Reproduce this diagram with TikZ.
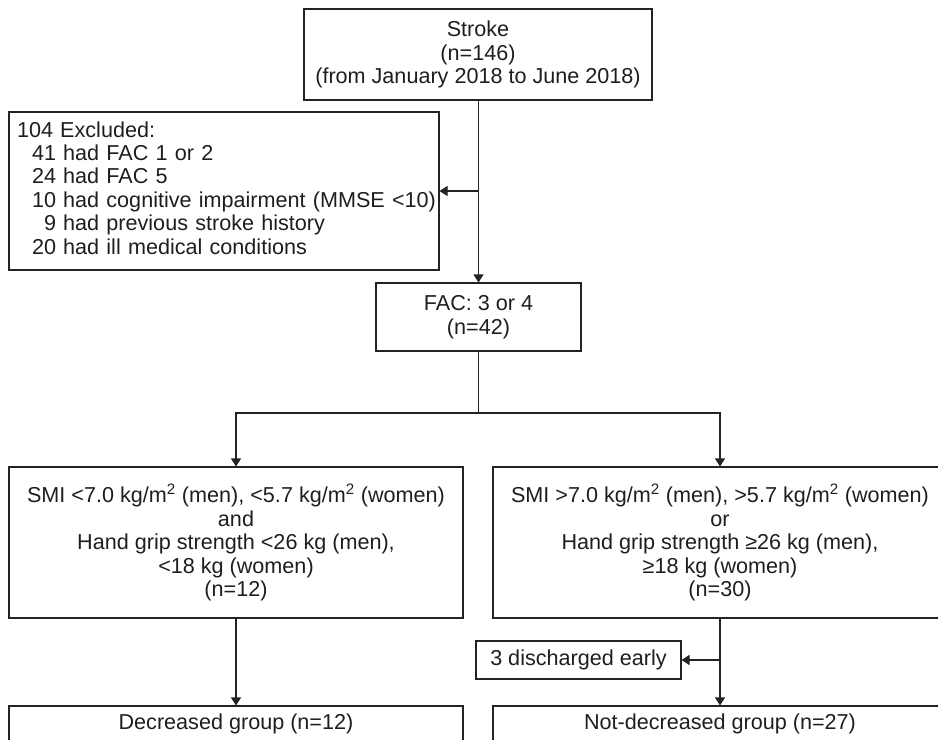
\documentclass[tikz,border=0pt]{standalone}
\usepackage{fontspec}
\setmainfont{Liberation Sans}
\usetikzlibrary{arrows.meta}
\definecolor{flowLine}{RGB}{35, 35, 35}
\definecolor{flowText}{RGB}{30, 30, 30}

\tikzset{
  flowbox/.style={draw=flowLine, line width=0.8pt, align=center, inner sep=4pt,
    text=flowText, font=\fontsize{16.2}{17.6}\selectfont},
  flowline/.style={draw=flowLine, line width=0.8pt},
  flowarrow/.style={flowline, -{Triangle[length=6pt, width=7.5pt]}}
}

\begin{document}
\begin{tikzpicture}[x=0.75pt, y=-0.75pt]
  \useasboundingbox (0,0) rectangle (938,739);
  % boxes
  \node[flowbox, minimum width=261pt, minimum height=68.25pt] (stroke) at (478,54.5)
    {Stroke\\(n=146)\\(from January 2018 to June 2018)};
  \node[flowbox, align=left, text width=310.5pt, inner xsep=6pt, minimum height=118.5pt] (excluded) at (224,191)
    {\begin{tabular}{@{\hspace{11.25pt}}r@{\ }l@{}}
      \multicolumn{2}{@{}l@{}}{104 Excluded:}\\
      41 & had FAC 1 or 2\\
      24 & had FAC 5\\
      10 & had cognitive impairment (MMSE <10)\\
      9 & had previous stroke history\\
      20 & had ill medical conditions
    \end{tabular}};
  \node[flowbox, minimum width=153.75pt, minimum height=51pt] (fac) at (478.5,317)
    {FAC: 3 or 4\\(n=42)};
  \node[flowbox, minimum width=340.5pt, minimum height=113.25pt] (low) at (236,542.5)
    {SMI <7.0 kg/m\textsuperscript{2} (men), <5.7 kg/m\textsuperscript{2} (women)\\and\\
     Hand grip strength <26 kg (men),\\<18 kg (women)\\(n=12)};
  \node[flowbox, minimum width=340.5pt, minimum height=113.25pt] (high) at (720,542.5)
    {SMI >7.0 kg/m\textsuperscript{2} (men), >5.7 kg/m\textsuperscript{2} (women)\\or\\
     Hand grip strength ≥26 kg (men),\\≥18 kg (women)\\(n=30)};
  \node[flowbox, minimum width=153.75pt, minimum height=28.5pt] (discharged) at (578.5,660)
    {3 discharged early};
  \node[flowbox, minimum width=340.5pt, minimum height=27pt] (lowgroup) at (236,724)
    {Decreased group (n=12)};
  \node[flowbox, minimum width=340.5pt, minimum height=27pt] (highgroup) at (720,724)
    {Not-decreased group (n=27)};
  % connectors
  \draw[flowarrow] (stroke.south -| fac.north) -- (fac.north);
  \coordinate (exclsplit) at (fac.north |- excluded.east);
  \draw[flowarrow] (exclsplit) -- (excluded.east);
  \coordinate (facsplit) at (478.5,413);
  \draw[flowline] (fac.south) -- (facsplit);
  \draw[flowarrow] (facsplit) -| (low.north);
  \draw[flowarrow] (facsplit) -| (high.north);
  \draw[flowarrow] (low.south) -- (lowgroup.north);
  \draw[flowarrow] (high.south) -- (highgroup.north);
  \coordinate (dischsplit) at (high.south |- discharged.east);
  \draw[flowarrow] (dischsplit) -- (discharged.east);
\end{tikzpicture}
\end{document}
